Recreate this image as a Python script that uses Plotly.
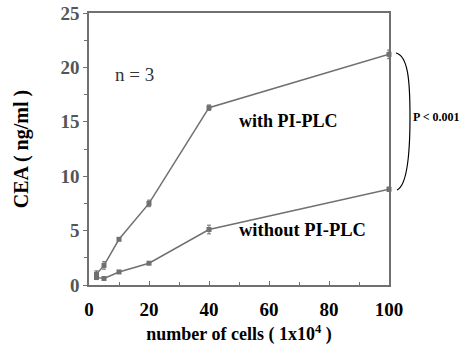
import plotly.graph_objects as go

cells = [2.5, 5, 10, 20, 40, 100]
with_plc = [1.0, 1.8, 4.2, 7.5, 16.3, 21.2]
with_err = [0.3, 0.35, 0.12, 0.3, 0.25, 0.4]
without_plc = [0.7, 0.6, 1.2, 2.0, 5.1, 8.8]
without_err = [0.2, 0.1, 0.1, 0.1, 0.4, 0.2]
x_ticks = [0, 20, 40, 60, 80, 100]
y_ticks = [0, 5, 10, 15, 20, 25]

W, H = 459, 346
L, R, T, B = 89, 389, 13, 285

def px(x):
    return (x - L) / (R - L)

def py(y):
    return (B - y) / (B - T)

grey = "#707070"
serif = "Liberation Serif, Times New Roman, serif"

fig = go.Figure()
for ys, es in [(with_plc, with_err), (without_plc, without_err)]:
    fig.add_trace(go.Scatter(
        x=cells, y=ys, mode="lines+markers",
        line=dict(color=grey, width=1.5),
        marker=dict(symbol="square", size=5, color=grey),
        error_y=dict(type="data", array=es, color=grey, thickness=1, width=2),
        cliponaxis=False, showlegend=False))

fig.update_layout(
    width=W, height=H,
    margin=dict(l=L, r=W - R, t=T, b=H - B, autoexpand=False),
    paper_bgcolor="white", plot_bgcolor="white",
    font=dict(family=serif, color="black"),
)
fig.update_xaxes(
    automargin=False,
    range=[0, 100], tickvals=x_ticks, ticktext=[f"<b>{v}</b>" for v in x_ticks],
    ticks="inside", ticklen=4, tickcolor=grey, ticklabelstandoff=6,
    minor=dict(tickvals=[10, 30, 50, 70, 90], ticks="inside", ticklen=3, tickcolor=grey),
    showline=True, linecolor=grey, linewidth=1.5, mirror=True,
    showgrid=False, zeroline=False,
    tickfont=dict(family=serif, size=19, color="black"),
    title=dict(text="<b>number of cells ( 1x10<sup>4</sup> )</b>",
               font=dict(family=serif, size=18, color="black"), standoff=9),
)
fig.update_yaxes(
    automargin=False,
    range=[0, 25], tickvals=y_ticks, ticktext=[f"<b>{v}</b>" for v in y_ticks],
    ticks="outside", ticklen=4, tickcolor=grey,
    minor=dict(tickvals=[2.5, 7.5, 12.5, 17.5, 22.5], ticks="outside", ticklen=3, tickcolor=grey),
    showline=True, linecolor=grey, linewidth=1.5, mirror=True,
    showgrid=False, zeroline=False,
    tickfont=dict(family=serif, size=19, color="#555555"),
    title=dict(text="<b>CEA ( ng/ml )</b>",
               font=dict(family=serif, size=20, color="black"), standoff=26),
)

fig.add_annotation(x=px(113), y=py(62), xref="paper", yref="paper", text="n = 3",
                   xanchor="left", showarrow=False,
                   font=dict(family=serif, size=19, color="#333333"))
fig.add_annotation(x=px(237), y=py(121), xref="paper", yref="paper", text="<b>with PI-PLC</b>",
                   xanchor="left", showarrow=False,
                   font=dict(family=serif, size=18, color="black"))
fig.add_annotation(x=px(237), y=py(242), xref="paper", yref="paper", text="<b>without PI-PLC</b>",
                   xanchor="left", showarrow=False,
                   font=dict(family=serif, size=18.5, color="black"))
fig.add_annotation(x=px(411), y=py(117), xref="paper", yref="paper", text="<b>P < 0.001</b>",
                   xanchor="left", showarrow=False,
                   font=dict(family=serif, size=12, color="black"))

def P(x, y):
    return f"{px(x):.4f},{py(y):.4f}"

path = (f"M {P(396, 53)} C {P(408, 56)} {P(410, 80)} {P(410, 117)} "
        f"C {P(410, 160)} {P(406, 186)} {P(397, 190)}")
fig.add_shape(type="path", path=path, xref="paper", yref="paper",
              line=dict(color="black", width=1.2))

fig.write_html("out.html")
